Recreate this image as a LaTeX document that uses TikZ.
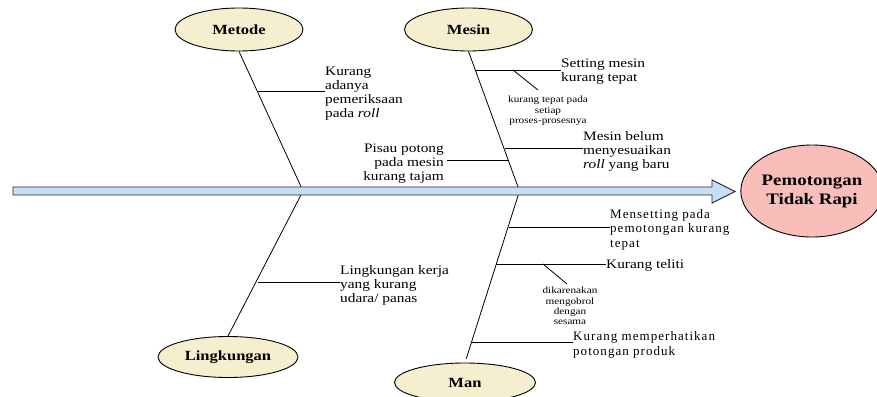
\documentclass[tikz,border=0pt]{standalone}
\usepackage{fontspec}
\setmainfont[FakeStretch=1.18]{Liberation Serif}
\newfontfamily\spacedfont[LetterSpace=8]{Liberation Serif}
\usetikzlibrary{shapes.geometric}
\definecolor{catfill}{RGB}{245,239,207}
\definecolor{effectfill}{RGB}{249,190,186}
\definecolor{spinefill}{RGB}{199,221,247}

\begin{document}
\begin{tikzpicture}[x=1pt,y=-1pt,
  category/.style={ellipse, draw=black, line width=0.9pt, fill=catfill, inner sep=0pt,
    minimum width=128pt, minimum height=43pt, font=\fontsize{14}{16}\selectfont\bfseries},
  effect/.style={ellipse, draw=black, line width=0.9pt, fill=effectfill, inner sep=0pt,
    minimum width=130pt, minimum height=92pt, align=center,
    font=\fontsize{16}{19}\selectfont\bfseries},
  rib/.style={draw=black, line width=0.8pt},
  cause/.style={inner sep=0pt, align=left, font=\fontsize{13}{14}\selectfont},
  spacedcause/.style={inner sep=0pt, align=left, font=\fontsize{13}{14.5}\selectfont\spacedfont},
  subcause/.style={inner sep=0pt, align=center, font=\fontsize{9.5}{10.3}\selectfont},
]
\useasboundingbox (0,0) rectangle (877,396);

% category heads and the effect
\node[category] (metode) at (239,29.5) {Metode};
\node[category] (mesin) at (468.5,29.5) {Mesin};
\node[category, minimum width=140pt, minimum height=41pt] (lingk) at (228,357) {Lingkungan};
\node[category, minimum width=141pt, minimum height=39pt] (man) at (465,382.5) {Man};
\node[effect] (effect) at (812,191) {Pemotongan\\Tidak Rapi};

% joints of the ribs on the spine
\coordinate (jLeft) at (303,191);
\coordinate (jRight) at (519.5,191);

% ribs
\draw[rib] (metode.south) -- (jLeft) -- (lingk.north);
\draw[rib, shorten >=4pt] (mesin.south) -- (jRight) -- (man.north);

% spine arrow
\filldraw[fill=spinefill, draw=black!85, line width=0.9pt]
  (13,187) -- (712,187) -- (712,180) -- (735,191.5) -- (712,203) -- (712,195) -- (13,195) -- cycle;

% Metode causes
\node[cause, anchor=north west] (roll) at (325,67) {Kurang\\adanya\\pemeriksaan\\pada \textit{roll}};
\coordinate (bRoll) at (258,91);
\draw[rib] (bRoll) -- (bRoll -| roll.west);

% Mesin causes
\node[cause, anchor=north west] (setting) at (561,59) {Setting mesin\\kurang tepat};
\coordinate (bSetting) at (475,70);
\draw[rib] (bSetting) -- (bSetting -| setting.west);
\coordinate (sSetting) at (513,70);
\coordinate (sSettingEnd) at (538,90);
\draw[rib] (sSetting) -- (sSettingEnd);
\node[subcause, anchor=north] (settingWhy) at (548,96) {kurang tepat pada\\setiap\\proses-prosesnya};

\node[cause, anchor=north west] (belum) at (583,131.5) {Mesin belum\\menyesuaikan\\\textit{roll} yang baru};
\coordinate (bBelum) at (504.5,148);
\draw[rib] (bBelum) -- (bBelum -| belum.west);

\node[cause, align=right, anchor=north east] (pisau) at (444,144) {Pisau potong\\pada mesin\\kurang tajam};
\coordinate (bPisau) at (509,160);
\draw[rib] (bPisau) -- ([xshift=3pt]bPisau -| pisau.east);

% Lingkungan cause
\node[cause, anchor=north west] (udara) at (340,265) {Lingkungan kerja\\yang kurang\\udara/ panas};
\coordinate (bUdara) at (257.5,282);
\draw[rib] (bUdara) -- (bUdara -| udara.west);

% Man causes
\node[spacedcause, anchor=north west] (mensetting) at (610,209) {Mensetting pada\\pemotongan kurang\\tepat};
\coordinate (bMensetting) at (508.5,227);
\draw[rib] (bMensetting) -- (bMensetting -| mensetting.west);

\node[cause, anchor=base west] (teliti) at (606,268.3) {Kurang teliti};
\coordinate (bTeliti) at (496,264);
\draw[rib] (bTeliti) -- (bTeliti -| teliti.west);
\coordinate (sTeliti) at (543,264);
\coordinate (sTelitiEnd) at (567,284);
\draw[rib] (sTeliti) -- (sTelitiEnd);
\node[subcause, anchor=north] (telitiWhy) at (570,287) {dikarenakan\\mengobrol\\dengan\\sesama};

\node[spacedcause, anchor=north west] (produk) at (573,331.5) {Kurang memperhatikan\\potongan produk};
\coordinate (bProduk) at (470.5,342);
\draw[rib] (bProduk) -- (bProduk -| produk.west);
\end{tikzpicture}
\end{document}
